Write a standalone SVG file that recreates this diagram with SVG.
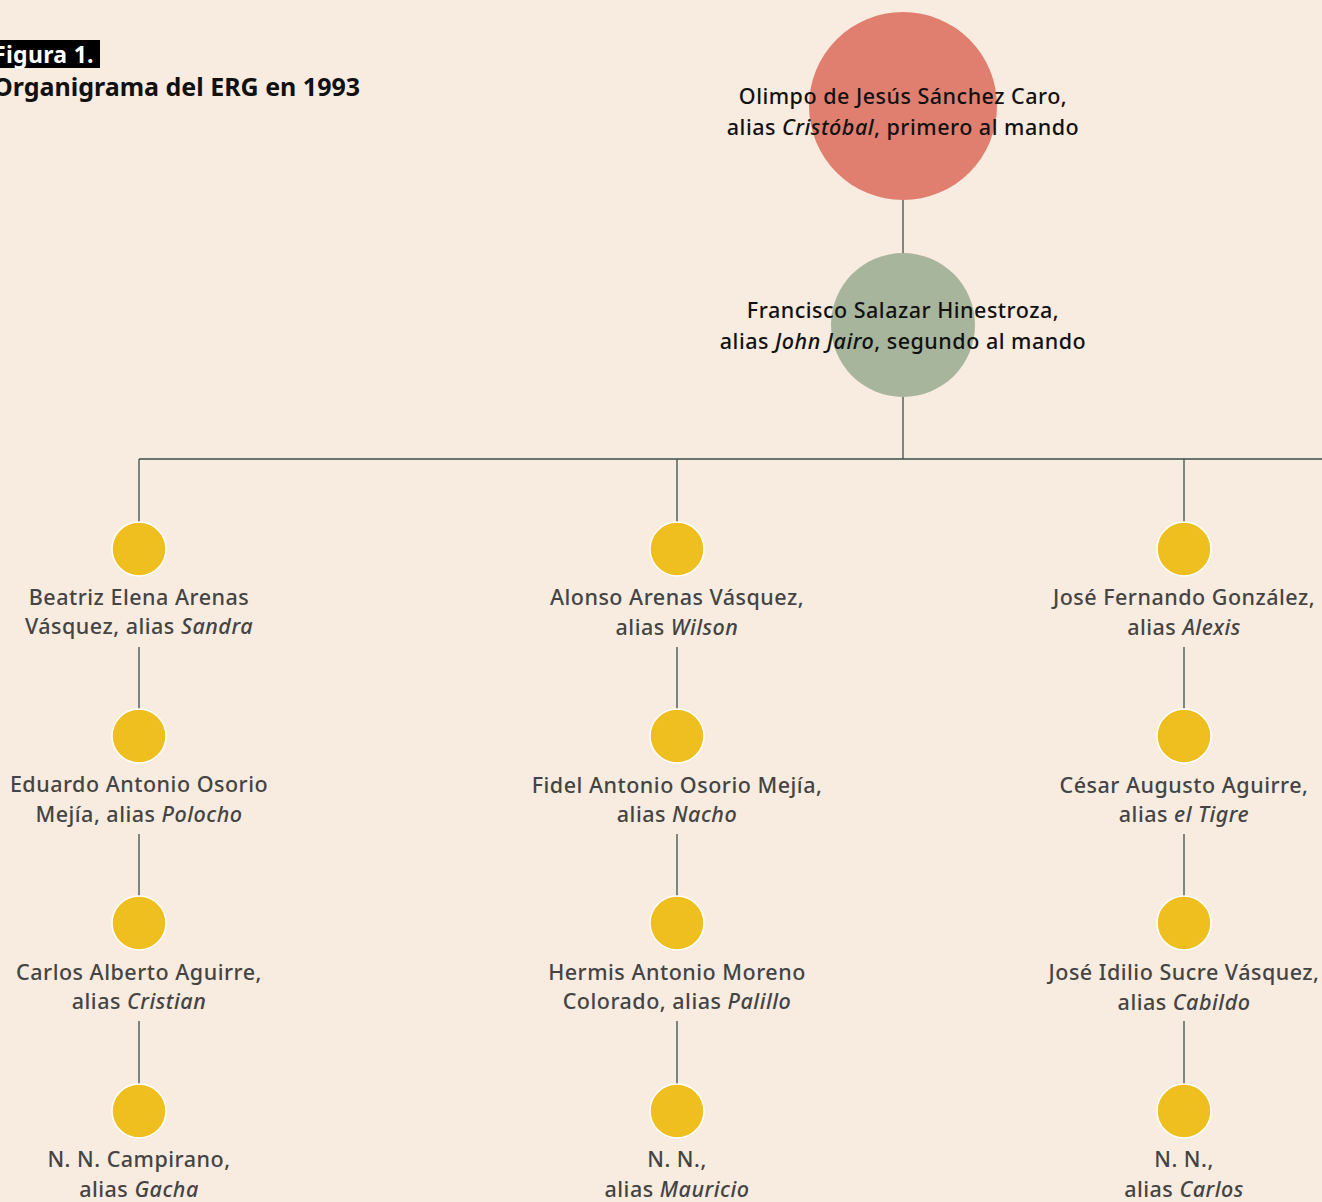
<svg xmlns="http://www.w3.org/2000/svg" width="1322" height="1202" viewBox="0 0 1322 1202">
<style>
.bg{fill:#f8ebdf}
.ln{stroke:#3a4f4b;stroke-width:1.3;fill:none}
.y{fill:#eebf1f;stroke:#ffffff;stroke-width:1.5}
.top{font-family:"Noto Sans","Open Sans",sans-serif;font-size:21.5px;font-weight:500;letter-spacing:0.5px;fill:#111;text-anchor:middle}
.lb{font-family:"Noto Sans","Open Sans",sans-serif;font-size:21.5px;font-weight:500;letter-spacing:0.5px;fill:#444;text-anchor:middle}
.it{font-style:italic}
.t1{font-family:"Noto Sans","Open Sans",sans-serif;font-size:23px;font-weight:700;letter-spacing:0.3px;fill:#fff}
.t2{font-family:"Noto Sans","Open Sans",sans-serif;font-size:25px;font-weight:700;fill:#111}
</style>
<rect class="bg" x="0" y="0" width="1322" height="1202"/>
<g id="title">
<rect x="0" y="40" width="100" height="28" fill="#000"/>
<text class="t1" x="-7" y="63">Figura 1.</text>
<text class="t2" x="-7" y="96">Organigrama del ERG en 1993</text>
</g>
<g id="connectors">
<line class="ln" x1="903" y1="200" x2="903" y2="253"/>
<line class="ln" x1="903" y1="397" x2="903" y2="459"/>
<line class="ln" x1="139" y1="459" x2="1322" y2="459"/>
<line class="ln" x1="139" y1="459" x2="139" y2="522"/>
<line class="ln" x1="677" y1="459" x2="677" y2="522"/>
<line class="ln" x1="1184" y1="459" x2="1184" y2="522"/>
<line class="ln" x1="139" y1="647" x2="139" y2="709"/>
<line class="ln" x1="139" y1="834" x2="139" y2="896"/>
<line class="ln" x1="139" y1="1021" x2="139" y2="1084"/>
<line class="ln" x1="677" y1="647" x2="677" y2="709"/>
<line class="ln" x1="677" y1="834" x2="677" y2="896"/>
<line class="ln" x1="677" y1="1021" x2="677" y2="1084"/>
<line class="ln" x1="1184" y1="647" x2="1184" y2="709"/>
<line class="ln" x1="1184" y1="834" x2="1184" y2="896"/>
<line class="ln" x1="1184" y1="1021" x2="1184" y2="1084"/>
</g>
<g id="n-olimpo">
<circle cx="903" cy="106" r="94" fill="#e07f6f"/>
<text class="top" x="903" y="104">Olimpo de Jesús Sánchez Caro,</text>
<text class="top" x="903" y="135">alias <tspan class="it">Cristóbal</tspan>, primero al mando</text>
</g>
<g id="n-francisco">
<circle cx="903" cy="325" r="72" fill="#a7b59c"/>
<text class="top" x="903" y="318">Francisco Salazar Hinestroza,</text>
<text class="top" x="903" y="349">alias <tspan class="it">John Jairo</tspan>, segundo al mando</text>
</g>
<g id="n-beatriz">
<circle class="y" cx="139" cy="549" r="27"/>
<text class="lb" x="139" y="605">Beatriz Elena Arenas</text>
<text class="lb" x="139" y="634">Vásquez, alias <tspan class="it">Sandra</tspan></text>
</g>
<g id="n-eduardo">
<circle class="y" cx="139" cy="736" r="27"/>
<text class="lb" x="139" y="792">Eduardo Antonio Osorio</text>
<text class="lb" x="139" y="822">Mejía, alias <tspan class="it">Polocho</tspan></text>
</g>
<g id="n-carlosalberto">
<circle class="y" cx="139" cy="923" r="27"/>
<text class="lb" x="139" y="980">Carlos Alberto Aguirre,</text>
<text class="lb" x="139" y="1009">alias <tspan class="it">Cristian</tspan></text>
</g>
<g id="n-campirano">
<circle class="y" cx="139" cy="1111" r="27"/>
<text class="lb" x="139" y="1167">N. N. Campirano,</text>
<text class="lb" x="139" y="1197">alias <tspan class="it">Gacha</tspan></text>
</g>
<g id="n-alonso">
<circle class="y" cx="677" cy="549" r="27"/>
<text class="lb" x="677" y="605">Alonso Arenas Vásquez,</text>
<text class="lb" x="677" y="635">alias <tspan class="it">Wilson</tspan></text>
</g>
<g id="n-fidel">
<circle class="y" cx="677" cy="736" r="27"/>
<text class="lb" x="677" y="793">Fidel Antonio Osorio Mejía,</text>
<text class="lb" x="677" y="822">alias <tspan class="it">Nacho</tspan></text>
</g>
<g id="n-hermis">
<circle class="y" cx="677" cy="923" r="27"/>
<text class="lb" x="677" y="980">Hermis Antonio Moreno</text>
<text class="lb" x="677" y="1009">Colorado, alias <tspan class="it">Palillo</tspan></text>
</g>
<g id="n-mauricio">
<circle class="y" cx="677" cy="1111" r="27"/>
<text class="lb" x="677" y="1167">N. N.,</text>
<text class="lb" x="677" y="1197">alias <tspan class="it">Mauricio</tspan></text>
</g>
<g id="n-josefernando">
<circle class="y" cx="1184" cy="549" r="27"/>
<text class="lb" x="1184" y="605">José Fernando González,</text>
<text class="lb" x="1184" y="635">alias <tspan class="it">Alexis</tspan></text>
</g>
<g id="n-cesar">
<circle class="y" cx="1184" cy="736" r="27"/>
<text class="lb" x="1184" y="793">César Augusto Aguirre,</text>
<text class="lb" x="1184" y="822">alias <tspan class="it">el Tigre</tspan></text>
</g>
<g id="n-joseidilio">
<circle class="y" cx="1184" cy="923" r="27"/>
<text class="lb" x="1184" y="980">José Idilio Sucre Vásquez,</text>
<text class="lb" x="1184" y="1010">alias <tspan class="it">Cabildo</tspan></text>
</g>
<g id="n-carlos">
<circle class="y" cx="1184" cy="1111" r="27"/>
<text class="lb" x="1184" y="1167">N. N.,</text>
<text class="lb" x="1184" y="1197">alias <tspan class="it">Carlos</tspan></text>
</g>
</svg>
